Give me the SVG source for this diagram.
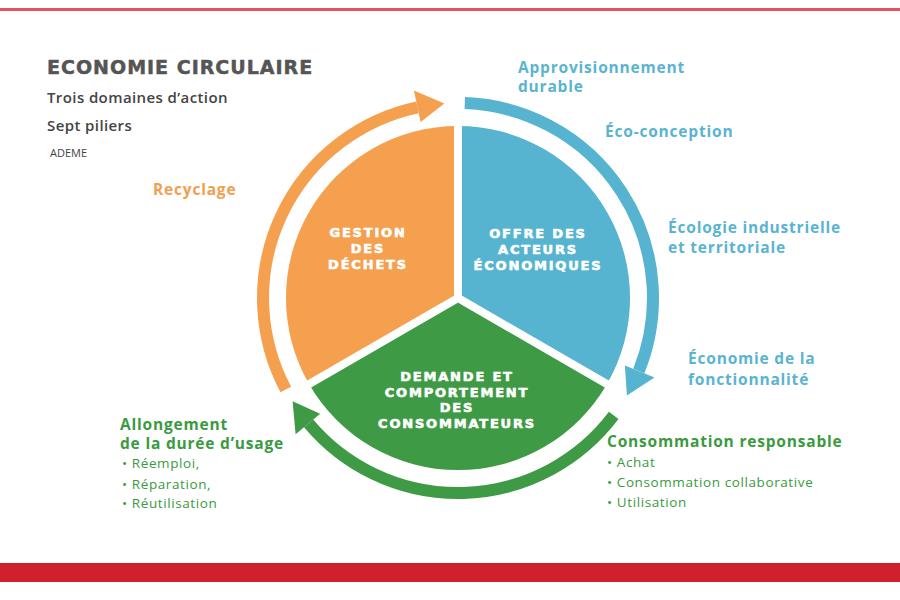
<svg xmlns="http://www.w3.org/2000/svg" width="900" height="600" viewBox="0 0 900 600">
<style>
.t{font-family:"Open Sans","Liberation Sans",sans-serif;font-weight:600;font-size:15px;fill:#444;letter-spacing:0.4px}
.h{font-family:"Open Sans","Liberation Sans",sans-serif;font-weight:700;font-size:15.5px;letter-spacing:0.8px}
.b{font-family:"Open Sans","Liberation Sans",sans-serif;font-size:13.5px;fill:#3a9a40;letter-spacing:0.6px}
.w{font-family:"DejaVu Sans",sans-serif;font-weight:bold;font-size:13px;fill:#fff;text-anchor:middle;letter-spacing:1.8px;stroke:#fff;stroke-width:0.6px}
.bl{fill:#56b4d0}.or{fill:#f5a04f}.gr{fill:#3f9a46}
</style>
<rect width="900" height="600" fill="#fff"/>
<rect x="0" y="8" width="900" height="3" fill="#e05560"/>
<rect x="0" y="563" width="900" height="19" fill="#d0202e"/>
<text x="47" y="74" style="font-family:'DejaVu Sans',sans-serif;font-weight:bold;font-size:19px;fill:#555;letter-spacing:1px;stroke:#555;stroke-width:0.5px">ECONOMIE CIRCULAIRE</text>
<text class="t" x="47" y="103">Trois domaines d’action</text>
<text class="t" x="47" y="131">Sept piliers</text>
<text x="50" y="157" style="font-family:'Open Sans',sans-serif;font-size:11px;fill:#444">ADEME</text>
<g id="nodes">
<g id="gestion"><path class="or" d="M458,298 L458,126 A172,172 0 0 0 309,384 Z"/></g>
<g id="offre"><path class="bl" d="M458,298 L458,126 A172,172 0 0 1 607,384 Z"/></g>
<g id="demande"><path class="gr" d="M458,298 L607,384 A172,172 0 0 1 309,384 Z"/></g>
<path d="M458,298 L458,120 M458,298 L612,387 M458,298 L304,387" stroke="#fff" stroke-width="8" fill="none"/>
<text class="w" x="368" y="237">GESTION</text><text class="w" x="368" y="253">DES</text><text class="w" x="368" y="269">DÉCHETS</text>
<text class="w" x="538" y="238">OFFRE DES</text><text class="w" x="538" y="254">ACTEURS</text><text class="w" x="538" y="270">ÉCONOMIQUES</text>
<text class="w" x="457" y="381">DEMANDE ET</text><text class="w" x="457" y="397">COMPORTEMENT</text><text class="w" x="457" y="412">DES</text><text class="w" x="457" y="428">CONSOMMATEURS</text>
</g>
<g id="connectors" fill="none" stroke-width="12">
<path d="M285.8,389.5 A195,195 0 0 1 417.5,107.3" stroke="#f5a04f"/>
<polygon class="or" points="420.6,121.9 413.9,90.6 444.4,103.5"/>
<path d="M464.8,103.1 A195,195 0 0 1 638.8,371" stroke="#56b4d0"/>
<polygon class="bl" points="624.9,365.4 654.5,377.4 626.9,395.5"/>
<path d="M613.7,415.4 A195,195 0 0 1 308.6,423.3" stroke="#3f9a46"/>
<polygon class="gr" points="320.1,413.7 295.6,434.3 292.6,401.3"/>
</g>
<g class="h" style="fill:#5ab4d0">
<text x="518" y="73">Approvisionnement</text><text x="518" y="92">durable</text>
<text x="605" y="137">Éco-conception</text>
<text x="668" y="233">Écologie industrielle</text><text x="668" y="253">et territoriale</text>
<text x="688" y="364">Économie de la</text><text x="688" y="385">fonctionnalité</text>
</g>
<text class="h" x="153" y="195" style="fill:#f0a050">Recyclage</text>
<g class="h" style="fill:#3a9a40">
<text x="120" y="430">Allongement</text><text x="120" y="449">de la durée d’usage</text>
<text x="607" y="447">Consommation responsable</text>
</g>
<text class="b" x="122" y="468">•   Réemploi,</text>
<text class="b" x="122" y="489">•   Réparation,</text>
<text class="b" x="122" y="508">•   Réutilisation</text>
<text class="b" x="607" y="467">•   Achat</text>
<text class="b" x="607" y="487">•   Consommation collaborative</text>
<text class="b" x="607" y="507">•   Utilisation</text>
</svg>
